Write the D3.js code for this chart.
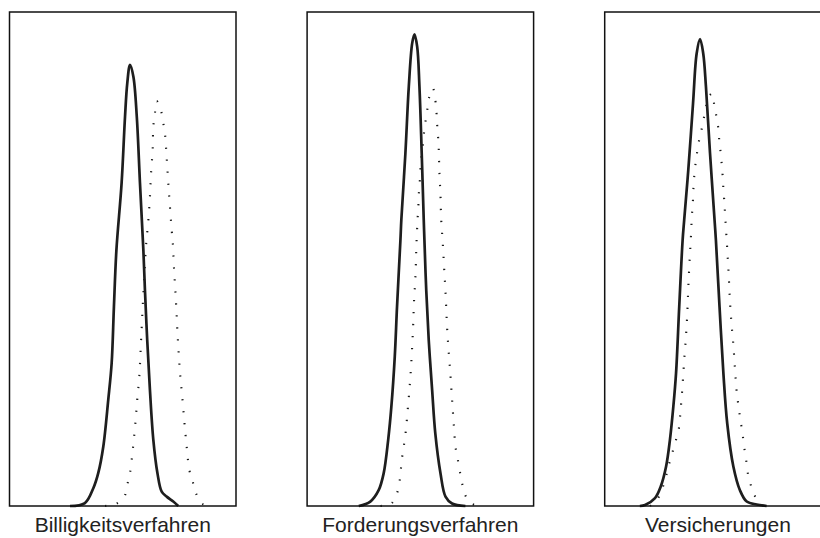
<!DOCTYPE html>
<html>
<head>
<meta charset="utf-8">
<script src="https://cdn.jsdelivr.net/npm/d3@7"></script>
<style>
  html, body { margin: 0; padding: 0; background: #fff; }
  svg { display: block; }
</style>
</head>
<body>
<svg id="chart" width="820" height="538"></svg>
<script>
// Panel titles
const categories = ["Billigkeitsverfahren", "Forderungsverfahren", "Versicherungen"];

// Density curves: [x, relative density] (x on a 0-100 scale per panel, density 0-100)
const billigSolid = [[26.7,0],[33.3,0.6],[37.0,3.6],[39.2,6.7],[41.4,12.0],[43.6,21.5],[45.1,28.9],[46.1,40.3],[47.2,51.8],[49.5,65.4],[51.0,78.8],[52.0,85.6],[53.2,89.3],[54.7,86.9],[56.2,78.8],[57.6,65.4],[59.1,51.8],[59.8,43.7],[60.8,33.6],[62.0,23.5],[63.5,13.4],[65.3,6.7],[67.2,2.9],[69.4,1.9],[72.3,0.9],[74.5,0]];
const billigDotted = [[42.2,0],[47.3,0.5],[50.7,1.9],[52.0,4.3],[53.2,6.7],[54.4,11.3],[55.5,16.4],[56.4,21.5],[57.3,26.2],[58.1,33.6],[58.8,40.3],[59.4,45.4],[60.3,52.8],[61.3,57.9],[62.0,62.6],[62.5,67.4],[63.2,72.1],[63.5,76.8],[64.2,79.5],[65.0,82.0],[66.9,80.0],[67.9,77.5],[68.7,75.1],[69.4,70.4],[70.4,63.4],[71.6,55.9],[72.1,53.2],[72.6,48.4],[73.5,41.4],[74.3,34.0],[75.3,26.9],[76.3,21.9],[77.2,17.1],[78.2,12.1],[79.4,7.3],[80.9,4.9],[82.3,2.6],[84.9,0.5],[90.0,0]];

const forderSolid = [[22.8,0],[27.9,0.9],[31.6,3.2],[33.8,6.6],[35.8,13.4],[37.2,20.1],[38.7,30.2],[39.7,40.3],[41.2,53.8],[41.6,57.9],[43.4,71.4],[44.9,84.9],[46.4,93.7],[47.4,95.5],[48.6,93.0],[49.6,84.9],[50.6,71.4],[51.5,57.9],[51.8,53.8],[52.6,43.7],[53.7,33.6],[55.2,23.5],[56.6,14.7],[58.9,6.6],[61.1,1.9],[64.0,0.5],[69.9,0]];
const forderDotted = [[32.4,0],[37.2,0.5],[39.7,2.6],[40.8,4.9],[41.9,9.7],[43.4,14.4],[44.4,19.4],[45.3,24.3],[46.0,29.0],[46.8,36.3],[47.2,41.4],[47.8,46.1],[48.3,53.3],[48.8,58.2],[49.1,60.6],[49.3,63.0],[49.7,65.3],[50.0,67.7],[50.3,70.0],[51.0,72.7],[51.5,75.1],[52.2,77.6],[53.0,80.0],[53.7,82.4],[55.5,84.6],[56.6,82.2],[57.1,79.8],[57.4,77.3],[57.8,74.9],[58.1,72.5],[58.4,67.7],[58.9,62.8],[59.2,58.1],[59.9,53.2],[60.5,48.2],[61.1,43.4],[61.8,36.2],[62.5,31.3],[63.3,26.5],[64.0,21.6],[64.7,16.9],[65.5,12.0],[66.5,9.5],[67.4,7.1],[68.4,4.7],[69.6,2.4],[72.5,0.5],[77.3,0]];

const versSolid = [[15.5,0],[17.8,0.2],[22.2,1.6],[24.7,3.9],[27.1,8.0],[28.8,13.4],[30.3,20.1],[31.5,26.9],[32.9,40.3],[34.4,53.8],[35.1,57.9],[36.9,68.0],[39.0,81.5],[40.6,91.6],[42.1,94.5],[43.5,91.6],[44.7,84.9],[46.5,71.4],[48.5,57.9],[49.1,53.8],[50.7,40.3],[52.4,26.9],[54.1,16.7],[56.8,8.0],[59.7,3.2],[62.7,0.9],[67.1,0.3],[71.5,0]];
const versDotted = [[20.0,0],[23.0,1.2],[25.3,3.4],[26.9,5.7],[28.1,8.0],[29.6,10.3],[31.0,12.7],[32.5,15.0],[33.6,19.9],[34.4,24.7],[35.1,29.6],[35.9,34.4],[36.5,39.3],[36.9,44.1],[37.4,49.0],[37.7,51.5],[38.0,53.8],[38.5,58.8],[38.9,61.3],[39.1,63.6],[39.4,66.0],[39.9,68.5],[40.6,70.9],[41.3,73.2],[42.5,75.6],[43.5,77.9],[44.6,80.4],[45.7,82.7],[47.5,83.5],[48.4,81.0],[49.4,78.7],[50.2,76.3],[50.6,73.9],[51.2,71.5],[51.7,69.0],[52.1,66.7],[52.4,64.2],[52.8,61.7],[53.1,59.4],[54.1,52.0],[54.4,49.6],[54.7,47.2],[55.2,42.4],[55.9,37.4],[56.8,32.6],[57.5,27.9],[58.3,22.9],[59.0,20.5],[59.7,18.1],[60.5,15.7],[61.2,13.4],[61.9,10.9],[62.7,8.5],[63.4,6.1],[64.9,3.7],[66.8,1.6],[70.0,0]];

const solidSeries = [billigSolid, forderSolid, versSolid];
const dottedSeries = [billigDotted, forderDotted, versDotted];

// Layout
const panelW = 226.5, panelTop = 12, panelBottom = 506, panelStep = 297.6, firstLeft = 9.5;

const svg = d3.select("#chart");
const y = d3.scaleLinear().domain([0, 100]).range([panelBottom, panelTop]);

categories.forEach((cat, i) => {
  const left = firstLeft + i * panelStep;
  const x = d3.scaleLinear().domain([0, 100]).range([left, left + panelW]);
  const g = svg.append("g");

  const line = d3.line()
    .x(d => x(d[0]))
    .y(d => y(d[1]))
    .curve(d3.curveCatmullRom.alpha(0.5));

  g.append("path")
    .datum(dottedSeries[i])
    .attr("d", line)
    .attr("fill", "none")
    .attr("stroke", "#1a1a1a")
    .attr("stroke-width", 2.1)
    .attr("stroke-dasharray", "1.3 10.7");

  g.append("path")
    .datum(solidSeries[i])
    .attr("d", line)
    .attr("fill", "none")
    .attr("stroke", "#1e1e1e")
    .attr("stroke-width", 2.7)
    .attr("stroke-linejoin", "round");

  g.append("rect")
    .attr("x", x(0))
    .attr("y", y(100))
    .attr("width", x(100) - x(0))
    .attr("height", y(0) - y(100))
    .attr("fill", "none")
    .attr("stroke", "#111")
    .attr("stroke-width", 1.5);

  svg.append("text")
    .attr("x", (x(0) + x(100)) / 2)
    .attr("y", 532)
    .attr("text-anchor", "middle")
    .attr("font-family", "'Liberation Sans', Arial, Helvetica, sans-serif")
    .attr("font-size", 21)
    .attr("fill", "#222")
    .text(cat);
});
</script>
</body>
</html>
